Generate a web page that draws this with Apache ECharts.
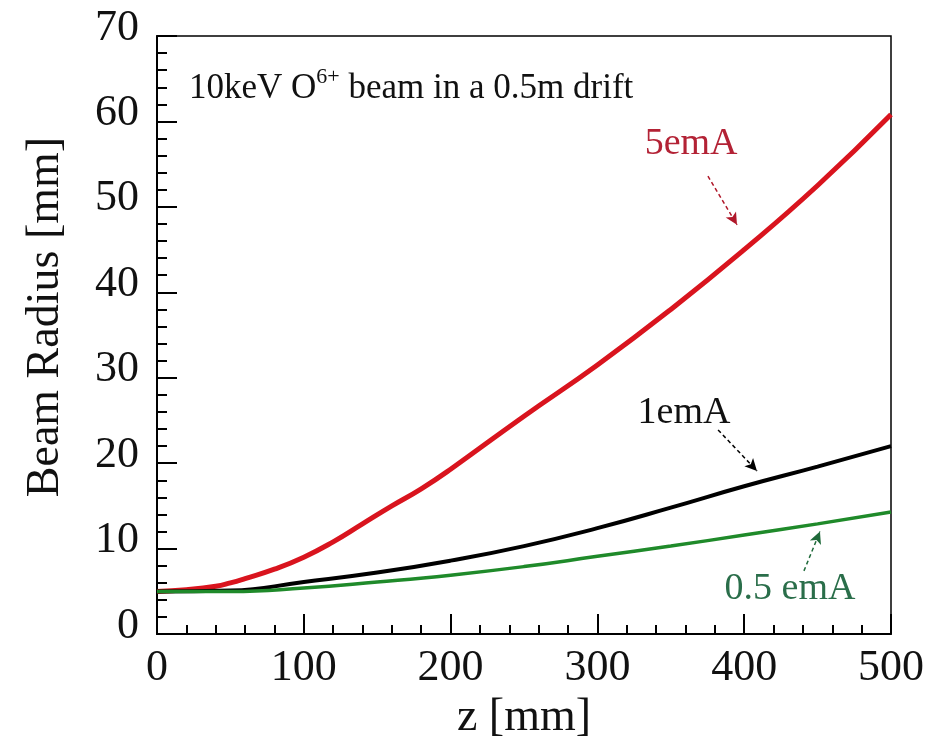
<!DOCTYPE html>
<html>
<head>
<meta charset="utf-8">
<script src="https://cdn.jsdelivr.net/npm/echarts@6/dist/echarts.min.js"></script>
<style>
  html, body { margin: 0; padding: 0; background: #fff; }
  #chart { width: 933px; height: 746px; }
</style>
</head>
<body>
<div id="chart"></div>
<script>
// z positions [mm] and beam radius [mm]
const zRed = [0, 20, 40, 50, 60, 80, 100, 120, 140, 160, 180, 200, 250, 300, 350, 400, 450, 500]
const r5emA = [5, 5.2, 5.6, 6.0, 6.5, 7.6, 9.0, 10.8, 12.9, 15.0, 17.0, 19.3, 25.5, 31.5, 38, 45, 52.5, 60.8]
const zStep = [0, 50, 100, 150, 200, 250, 300, 350, 400, 450, 500]
const r1emA = [5, 5.1, 6.1, 7.2, 8.6, 10.3, 12.4, 14.8, 17.3, 19.6, 22.0]
const r05emA = [5, 5.0, 5.4, 6.1, 6.9, 7.9, 9.1, 10.3, 11.6, 12.9, 14.3]

const serif = 'Liberation Serif'
const pair = (xs, ys) => xs.map((x, i) => [x, ys[i]])

const arrow = (from, to, color) => ({
  silent: true,
  symbol: ['none', 'arrow'],
  symbolSize: [9, 12],
  label: { show: false },
  lineStyle: { color, width: 1.5, type: [4, 3] },
  data: [[{ coord: from }, { coord: to }]]
})

const note = (text, at, color) => ({
  silent: true,
  symbol: 'circle',
  symbolSize: 0,
  label: { show: true, position: 'inside', formatter: text, color, fontFamily: serif, fontSize: 38 },
  data: [{ coord: at }]
})

const chart = echarts.init(document.getElementById('chart'))
chart.setOption({
  animation: false,
  backgroundColor: '#fff',
  grid: { left: 157, top: 36, right: 42, bottom: 104, show: true, borderColor: '#000', borderWidth: 1.5 },
  graphic: [{
    type: 'text',
    left: 189,
    top: 66,
    style: {
      text: '{a|10keV O}{s|6+}{a| beam in a 0.5m drift}',
      rich: {
        a: { fontFamily: serif, fontSize: 35, fill: '#111', verticalAlign: 'bottom', lineHeight: 40 },
        s: { fontFamily: serif, fontSize: 22, fill: '#111', verticalAlign: 'top', lineHeight: 40, padding: [0, 0, 18, 0] }
      }
    }
  }],
  xAxis: {
    type: 'value',
    min: 0,
    max: 500,
    interval: 100,
    name: 'z [mm]',
    nameLocation: 'middle',
    nameGap: 56,
    nameTextStyle: { fontFamily: serif, fontSize: 46, color: '#111' },
    axisLine: { lineStyle: { color: '#000', width: 2 } },
    axisTick: { inside: true, length: 20, lineStyle: { color: '#000', width: 2 } },
    minorTick: { show: true, splitNumber: 5, length: 9, lineStyle: { color: '#000', width: 2 } },
    splitLine: { show: false },
    axisLabel: { fontFamily: serif, fontSize: 44, color: '#111', margin: 12 }
  },
  yAxis: {
    type: 'value',
    min: 0,
    max: 70,
    interval: 10,
    name: 'Beam Radius [mm]',
    nameLocation: 'middle',
    nameGap: 88,
    nameTextStyle: { fontFamily: serif, fontSize: 46, color: '#111', padding: [0, 0, 0, 36] },
    axisLine: { lineStyle: { color: '#000', width: 2 } },
    axisTick: { inside: true, length: 20, lineStyle: { color: '#000', width: 2 } },
    minorTick: { show: true, splitNumber: 5, length: 10, lineStyle: { color: '#000', width: 2 } },
    splitLine: { show: false },
    axisLabel: { fontFamily: serif, fontSize: 44, color: '#111', margin: 18, verticalAlign: 'bottom', lineHeight: 16 }
  },
  series: [
    {
      name: '5emA',
      type: 'line',
      smooth: true,
      showSymbol: false,
      data: pair(zRed, r5emA),
      lineStyle: { color: '#d9141e', width: 5 },
      itemStyle: { color: '#d9141e' },
      markLine: arrow([375.3, 53.6], [395.1, 47.9], '#b0182a'),
      markPoint: note('5emA', [363.8, 57.3], '#b32235')
    },
    {
      name: '1emA',
      type: 'line',
      smooth: true,
      showSymbol: false,
      data: pair(zStep, r1emA),
      lineStyle: { color: '#000', width: 4 },
      itemStyle: { color: '#000' },
      markLine: arrow([382.2, 23.9], [408.7, 19.1], '#000'),
      markPoint: note('1emA', [359, 25.9], '#111')
    },
    {
      name: '0.5 emA',
      type: 'line',
      smooth: true,
      showSymbol: false,
      data: pair(zStep, r05emA),
      lineStyle: { color: '#1f8a2a', width: 3.5 },
      itemStyle: { color: '#1f8a2a' },
      markLine: arrow([440.7, 7.4], [451.6, 12.0], '#1f6a3a'),
      markPoint: note('0.5 emA', [431.2, 5.3], '#2a6e4a')
    }
  ]
})
</script>
</body>
</html>
